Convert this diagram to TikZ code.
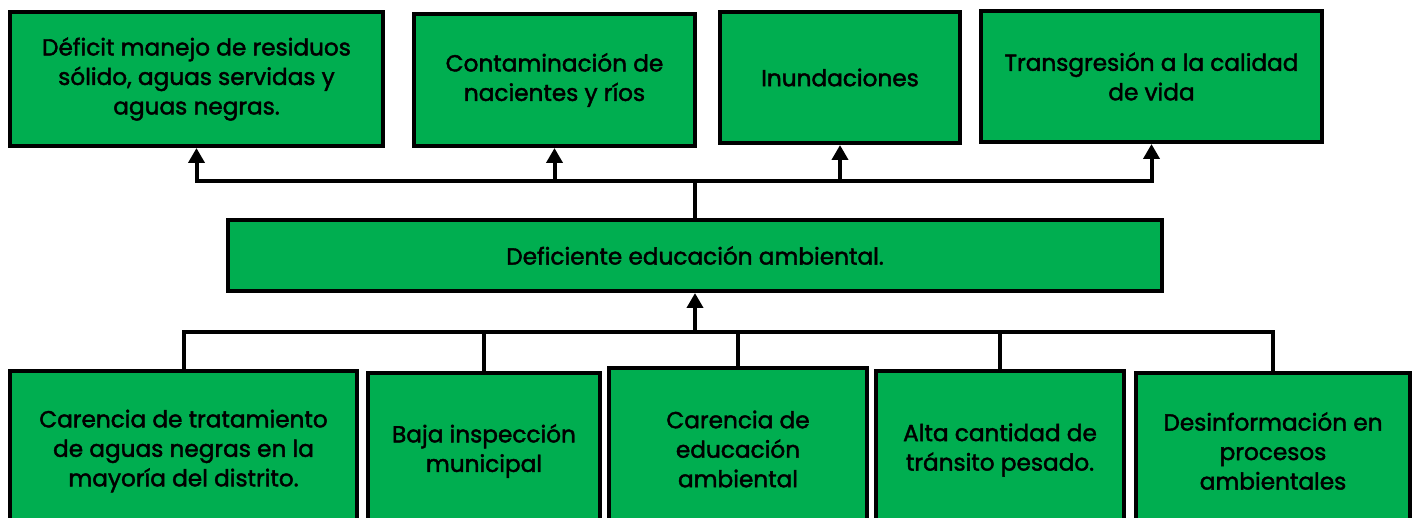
\documentclass[tikz,border=0pt]{standalone}
\usepackage{fontspec}
\setmainfont{Poppins}[FakeBold=1.8]
\usetikzlibrary{arrows.meta}
\definecolor{boxgreen}{HTML}{00AE50}
\begin{document}
\begin{tikzpicture}[x=1pt,y=-1pt,
        every node/.style={rectangle,draw,fill=boxgreen,line width=4pt,align=center,
            inner sep=2pt,font=\fontsize{23.2}{29.5}\selectfont},
        line/.style={line width=4pt},
        arrow/.style={line width=4pt,-{Triangle[width=16pt,length=15pt]}}]
        \useasboundingbox (0,0) rectangle (1418,518);
        \clip (0,0) rectangle (1418,518);

        % efectos
        \node[minimum width=373,minimum height=134] at (196.5,79) (A) {Déficit manejo de residuos\\sólido, aguas servidas y\\aguas negras.};
        \node[minimum width=281,minimum height=132] at (554.5,80) (B) {Contaminación de\\nacientes y ríos};
        \node[minimum width=240,minimum height=131] at (840,77.5) (C) {Inundaciones};
        \node[minimum width=341,minimum height=131] at (1151.5,76.5) (D) {Transgresión a la calidad\\de vida};

        % problema central
        \node[minimum width=934,minimum height=71] at (695,255.5) (E) {Deficiente educación ambiental.};

        % causas
        \node[minimum width=347,minimum height=160] at (183.5,451) (F) {Carencia de tratamiento\\de aguas negras en la\\mayoría del distrito.};
        \node[minimum width=232,minimum height=156] at (484,451) (G) {Baja inspección\\municipal};
        \node[minimum width=258,minimum height=162] at (738,449) (H) {Carencia de\\educación\\ambiental};
        \node[minimum width=248,minimum height=158] at (1000,450) (I) {Alta cantidad de\\tránsito pesado.};
        \node[minimum width=274,minimum height=156] at (1273,451) (J) {Desinformación en\\procesos\\ambientales};

        \coordinate (topbus) at (695,181);
        \coordinate (botbus) at (695,332);

        \foreach \n in {A,B,C,D}
            \draw[arrow] (E.north) |- (\n.south |- topbus) -- (\n.south);
        \foreach \n in {F,G,H,I,J}
            \draw[line] (\n.north) -- (\n.north |- botbus) -- (botbus);
        \draw[arrow] (botbus) -- (E.south);
    \end{tikzpicture}
\end{document}
